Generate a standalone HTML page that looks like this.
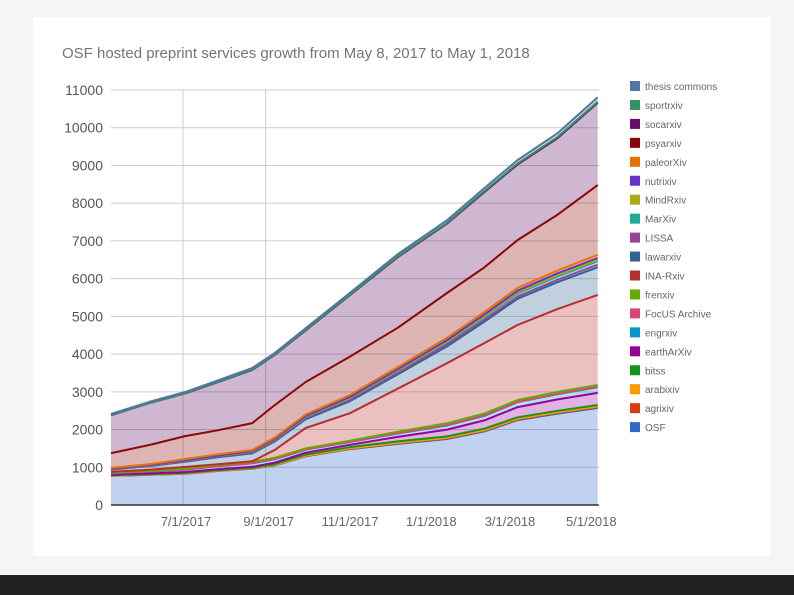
<!DOCTYPE html>
<html><head><meta charset="utf-8"><style>
body{margin:0;background:#f4f5f5;width:794px;height:595px;overflow:hidden;position:relative;font-family:"Liberation Sans",sans-serif}
#card{position:absolute;left:33px;top:17px;width:737px;height:539px;background:#fff}
#bar{position:absolute;left:0;top:575px;width:794px;height:20px;background:#222}
svg{position:absolute;left:0;top:0}
</style></head><body>
<div id="card"></div>
<div id="bar"></div>
<svg id="chart" width="794" height="595"></svg>
<script>
const days=[0,30,56,80,106,123,146,179,215,252,280,305,335,365];
const names=["OSF","agrixiv","arabixiv","bitss","earthArXiv","engrxiv","FocUS Archive","frenxiv","INA-Rxiv","lawarxiv","LISSA","MarXiv","MindRxiv","nutrixiv","paleorXiv","psyarxiv","socarxiv","sportrxiv","thesis commons"];
const colors=["#3366cc","#dc3912","#ff9900","#109618","#990099","#0099c6","#dd4477","#66aa00","#b82e2e","#316395","#994499","#22aa99","#aaaa11","#6633cc","#e67300","#8b0707","#651067","#329262","#5574a6"];
const sOSF=[770,800,830,900,960,1050,1290,1480,1620,1750,1950,2250,2420,2570];
const sAgri=[5,5,5,5,5,8,10,12,15,18,20,22,24,25];
const sArab=[3,3,3,3,3,5,5,8,10,10,12,12,14,15];
const sBitss=[10,10,12,12,15,20,30,35,40,40,40,40,40,40];
const sEarth=[15,20,25,25,30,40,50,60,120,180,220,270,300,320];
const sEngr=[40,50,60,80,90,90,80,75,90,110,120,130,140,150];
const sFocus=[5,5,5,5,5,5,5,5,8,10,10,10,10,10];
const sFren=[10,15,20,30,40,35,30,30,40,50,50,50,50,50];
const sIna=[20,30,50,20,10,210,540,725,1140,1590,1870,1990,2200,2390];
const sLaw=[60,95,140,185,210,225,235,320,380,445,565,695,710,730];
const sLissa=[5,10,15,20,25,25,30,35,40,50,55,60,65,70];
const sMar=[10,10,15,15,20,25,30,40,50,60,70,80,85,90];
const sMind=[5,5,5,5,5,10,10,15,20,25,30,35,40,40];
const sNutri=[5,5,5,5,10,10,15,20,25,30,35,40,45,50];
const sPaleo=[20,25,30,30,30,35,40,50,55,60,65,70,75,80];
const sPsy=[390,512,610,640,712,860,860,1020,1044,1190,1187,1270,1480,1850];
const sSoc=[1005,1115,1130,1275,1410,1330,1370,1625,1870,1840,1995,2005,2030,2180];
const sSport=[5,5,5,10,10,10,15,15,20,20,25,25,30,30];
const sThesis=[30,30,35,35,40,40,45,50,60,70,80,90,100,120];
const series=[sOSF,sAgri,sArab,sBitss,sEarth,sEngr,sFocus,sFren,sIna,sLaw,sLissa,sMar,sMind,sNutri,sPaleo,sPsy,sSoc,sSport,sThesis];
const yTicks=[0,1000,2000,3000,4000,5000,6000,7000,8000,9000,10000,11000];
const xTickDays=[54,116,177,238,297,358];
const xTickLabels=["7/1/2017","9/1/2017","11/1/2017","1/1/2018","3/1/2018","5/1/2018"];
const gridDays=[54,116];

const X0=111,X1=599,Y0=505,YT=90;
const xs=d=>X0+(d/366)*(X1-X0);
const ys=v=>Y0-(v/11000)*(Y0-YT);
const NS="http://www.w3.org/2000/svg";
const svg=document.getElementById('chart');
function mk(t,a){const e=document.createElementNS(NS,t);for(const k in a)e.setAttribute(k,a[k]);svg.appendChild(e);return e;}

const title=mk('text',{x:62,y:58,'font-size':15,fill:'#757575'});
title.textContent="OSF hosted preprint services growth from May 8, 2017 to May 1, 2018";



yTicks.forEach(v=>{
  const l=mk('line',{x1:X0,x2:X1,y1:ys(v),y2:ys(v),stroke:'#cccccc','stroke-width':1});
  
  
  const t=mk('text',{x:103,y:ys(v)+5,'font-size':14,fill:'#555','text-anchor':'end'});
  t.textContent=v;
  
  
});
gridDays.forEach(d=>{
  const l=mk('line',{x1:xs(d),x2:xs(d),y1:YT,y2:Y0,stroke:'#cccccc','stroke-width':1});
  
  
});
xTickDays.forEach((d,i)=>{
  const t=mk('text',{x:xs(d)+3,y:526,'font-size':13,fill:'#666','text-anchor':'middle'});
  t.textContent=xTickLabels[i];
  
  
});

let base=days.map(()=>0);
series.forEach((s,k)=>{
  const top=base.map((b,i)=>b+s[i]);
  let pts=days.map((d,i)=>xs(d).toFixed(1)+','+ys(top[i]).toFixed(1));
  let bpts=days.map((d,i)=>xs(d).toFixed(1)+','+ys(base[i]).toFixed(1)).reverse();
  const a=mk('polygon',{points:pts.concat(bpts).join(' '),fill:colors[k],'fill-opacity':0.3,stroke:'none'});
  
  
  base=top;
  s._top=pts;
});
series.forEach((s,k)=>{
  const l=mk('polyline',{points:s._top.join(' '),fill:'none',stroke:colors[k],'stroke-width':2,'stroke-linejoin':'round'});
  
  
});
const ax=mk('line',{x1:X0,x2:X1,y1:Y0,y2:Y0,stroke:'#333','stroke-width':1.5});



for(let k=18;k>=0;k--){
  const r=18-k, cy=86+r*18.95;
  const g=document.createElementNS(NS,'g');svg.appendChild(g);
  
  
  const sq=document.createElementNS(NS,'rect');
  sq.setAttribute('x',630);sq.setAttribute('y',cy-5);sq.setAttribute('width',10);sq.setAttribute('height',10);sq.setAttribute('fill',colors[k]);
  
  
  g.appendChild(sq);
  const t=document.createElementNS(NS,'text');
  t.setAttribute('x',645);t.setAttribute('y',cy+4);t.setAttribute('font-size',10);t.setAttribute('fill','#666');
  t.textContent=names[k];
  
  
  g.appendChild(t);
}
</script>
</body></html>
